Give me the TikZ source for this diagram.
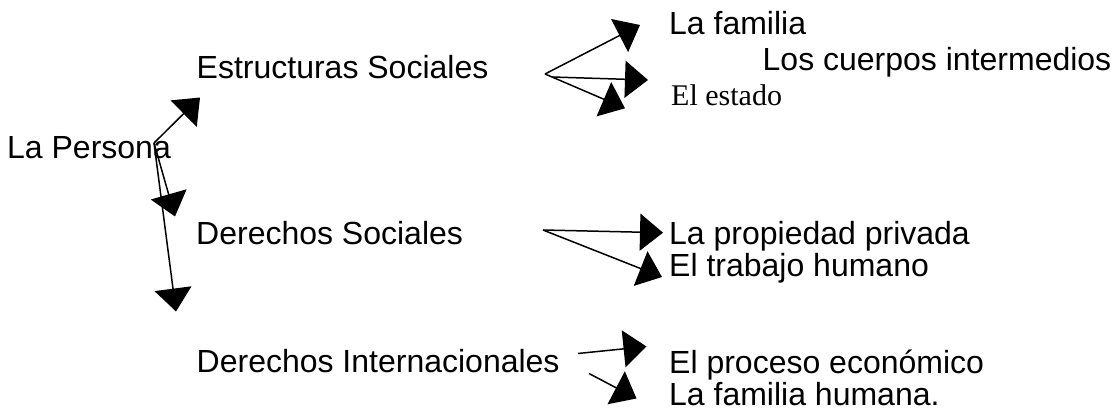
\documentclass[tikz,border=0pt]{standalone}
\usepackage{fontspec}
\setmainfont{Liberation Sans}
\newfontfamily\serifface{Liberation Serif}
\usetikzlibrary{arrows.meta}
\begin{document}
\begin{tikzpicture}[x=1pt,y=-1pt,
  lbl/.style={anchor=base west, inner sep=0pt, font=\fontsize{32}{38}\selectfont},
  slbl/.style={anchor=base west, inner sep=0pt, font=\fontsize{30}{36}\serifface},
  arr/.style={line width=1.5pt, -{Triangle[length=23pt,width=37pt]}}]
\useasboundingbox (0,0) rectangle (1117,417);
% text
\node[lbl] (persona) at (7,159) {La Persona};
\node[lbl] (estruct) at (196.5,79) {Estructuras Sociales};
\node[lbl] (familia) at (669,35) {La familia};
\node[lbl] (cuerpos) at (762.5,71) {Los cuerpos intermedios};
\node[slbl] (estado) at (671,106) {El estado};
\node[lbl] (dersoc) at (196,244.5) {Derechos Sociales};
\node[lbl] (propiedad) at (669,244.5) {La propiedad privada};
\node[lbl] (trabajo) at (669,276) {El trabajo humano};
\node[lbl] (derint) at (196.5,372.7) {Derechos Internacionales};
\node[lbl] (proceso) at (669,373.3) {El proceso económico};
\node[lbl] (famhum) at (669,405) {La familia humana.};
% connector ends
\coordinate (p0) at (154,143);
\coordinate (t1) at (200,97.5);
\coordinate (t2) at (175,216.5);
\coordinate (t3) at (176,311.5);
\coordinate (s1) at (545,74);
\coordinate (s1b) at (552,77);
\coordinate (ta) at (640,25);
\coordinate (tb) at (648,80);
\coordinate (tc) at (625,108.3);
\coordinate (s2) at (543,230);
\coordinate (td) at (663,232.7);
\coordinate (te) at (662,277);
\coordinate (s3a) at (578,353.5);
\coordinate (tf) at (646.5,346.5);
\coordinate (s3b) at (589,373.5);
\coordinate (tg) at (636.5,398.5);
% arrows
\draw[arr] (p0) -- (t1);
\draw[arr] (p0) -- (t2);
\draw[arr] (p0) -- (t3);
\draw[arr] (s1) -- (ta);
\draw[arr] (s1b) -- (tb);
\draw[arr] (s1) -- (tc);
\draw[arr] (s2) -- (td);
\draw[arr] (s2) -- (te);
\draw[arr] (s3a) -- (tf);
\draw[arr] (s3b) -- (tg);
\end{tikzpicture}
\end{document}
